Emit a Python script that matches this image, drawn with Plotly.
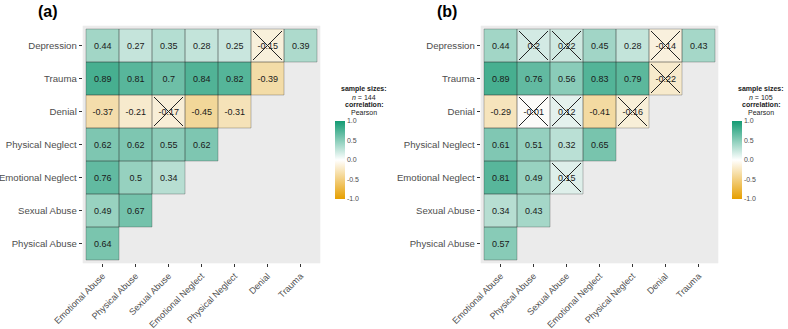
import plotly.graph_objects as go

W, H = 788, 329

# ---------------- data ----------------
row_labels = ["Depression", "Trauma", "Denial", "Physical Neglect",
              "Emotional Neglect", "Sexual Abuse", "Physical Abuse"]
col_labels = ["Emotional Abuse", "Physical Abuse", "Sexual Abuse",
              "Emotional Neglect", "Physical Neglect", "Denial", "Trauma"]

# panel (a), n = 144 ; rows top -> bottom, lower-triangular layout
corr_a = [
    [0.44, 0.27, 0.35, 0.28, 0.25, -0.15, 0.39],
    [0.89, 0.81, 0.7, 0.84, 0.82, -0.39],
    [-0.37, -0.21, -0.17, -0.45, -0.31],
    [0.62, 0.62, 0.55, 0.62],
    [0.76, 0.5, 0.34],
    [0.49, 0.67],
    [0.64],
]
nonsig_a = [
    [False, False, False, False, False, True, False],
    [False, False, False, False, False, False],
    [False, False, True, False, False],
    [False, False, False, False],
    [False, False, False],
    [False, False],
    [False],
]
n_a = 144

# panel (b), n = 105
corr_b = [
    [0.44, 0.2, 0.22, 0.45, 0.28, -0.14, 0.43],
    [0.89, 0.76, 0.56, 0.83, 0.79, -0.22],
    [-0.29, -0.01, 0.12, -0.41, -0.16],
    [0.61, 0.51, 0.32, 0.65],
    [0.81, 0.49, 0.15],
    [0.34, 0.43],
    [0.57],
]
nonsig_b = [
    [False, True, True, False, False, True, False],
    [False, False, False, False, False, True],
    [False, True, True, False, True],
    [False, False, False, False],
    [False, False, True],
    [False, False],
    [False],
]
n_b = 105

colorbar_ticks = [-1.0, -0.5, 0.0, 0.5, 1.0]

# ---------------- styling ----------------
FONT = "Liberation Sans, Arial, sans-serif"
colorscale = [[0.0, "#E69F00"], [0.5, "#FFFFFF"], [1.0, "#139B73"]]
nrow, ncol = len(row_labels), len(col_labels)


def px_x(p):
    return p / W


def px_y(p):
    return 1 - p / H


fig = go.Figure()

panels = [
    dict(corr=corr_a, ns=nonsig_a, n=n_a, xa="x", ya="y", title="(a)",
         title_x=48, leg_x=364, cb_x=335),
    dict(corr=corr_b, ns=nonsig_b, n=n_b, xa="x2", ya="y2", title="(b)",
         title_x=447, leg_x=761, cb_x=732),
]

shapes = []
annotations = []

for p in panels:
    z, txt = [], []
    xs_cross, ys_cross = [], []
    for i in range(nrow):
        yi = nrow - 1 - i
        zr, tr = [None] * ncol, [""] * ncol
        for j, v in enumerate(p["corr"][i]):
            zr[j] = v
            tr[j] = str(v)
            shapes.append(dict(type="rect", xref=p["xa"], yref=p["ya"],
                               x0=j - 0.5, x1=j + 0.5, y0=yi - 0.5, y1=yi + 0.5,
                               line=dict(color="rgba(40,40,40,0.28)", width=1),
                               layer="above"))
            if p["ns"][i][j]:
                xs_cross.append(j)
                ys_cross.append(yi)
        z.append(zr)
        txt.append(tr)
    fig.add_trace(go.Heatmap(
        z=z[::-1], text=txt[::-1], x=list(range(ncol)), y=list(range(nrow)),
        texttemplate="%{text}", textfont=dict(size=9, color="#1a1a1a", family=FONT),
        colorscale=colorscale, zmin=-1, zmax=1, opacity=0.86,
        xaxis=p["xa"], yaxis=p["ya"], hoverinfo="skip",
        colorbar=dict(x=px_x(p["cb_x"]), xanchor="left", y=px_y(160), yanchor="middle",
                      len=78, lenmode="pixels", thickness=10, outlinewidth=0,
                      xpad=0, ypad=0, tickvals=colorbar_ticks,
                      ticktext=[f"{t:.1f}" for t in colorbar_ticks], ticks="",
                      tickfont=dict(size=7, color="#4d4d4d", family=FONT)),
    ))
    fig.add_trace(go.Scatter(
        x=xs_cross, y=ys_cross, mode="markers", xaxis=p["xa"], yaxis=p["ya"],
        marker=dict(symbol="x-thin-open", size=29, color="#222222",
                    line=dict(width=1, color="#222222")),
        hoverinfo="skip", showlegend=False,
    ))
    annotations.append(dict(text="<b>" + p["title"] + "</b>", x=px_x(p["title_x"]),
                            y=px_y(11), xref="paper", yref="paper", showarrow=False,
                            xanchor="center", yanchor="middle",
                            font=dict(size=16, family=FONT, color="black")))
    leg_lines = [("<b>sample sizes:</b>", 89.5), (f"<i>n</i> = {p['n']}", 97.2),
                 ("<b>correlation:</b>", 104.9), ("Pearson", 112.6)]
    for t, yy in leg_lines:
        annotations.append(dict(text=t, x=px_x(p["leg_x"]), y=px_y(yy),
                                xref="paper", yref="paper", showarrow=False,
                                xanchor="center", yanchor="middle",
                                borderpad=0,
                                font=dict(size=7, family=FONT, color="#1a1a1a")))

axis_common = dict(showgrid=False, zeroline=False, ticks="outside", ticklen=3,
                   tickcolor="#333333", tickwidth=1, showline=False,
                   automargin=False, range=[-0.6, 6.6], fixedrange=True)
xfont = dict(size=9, family=FONT, color="#4d4d4d")
yfont = dict(size=9.6, family=FONT, color="#4d4d4d")

ydom = [px_y(263.3), px_y(25.7)]
fig.update_layout(
    template="none",
    width=W, height=H, margin=dict(l=0, r=0, t=0, b=0, autoexpand=False),
    paper_bgcolor="white", plot_bgcolor="#EBEBEB",
    font=dict(family=FONT),
    showlegend=False,
    xaxis=dict(domain=[px_x(82.7), px_x(82.7 + 237.6)], anchor="y",
               tickvals=list(range(ncol)), ticktext=col_labels, tickangle=-45,
               tickfont=xfont, **axis_common),
    yaxis=dict(domain=ydom, anchor="x", tickvals=list(range(nrow)),
               ticktext=row_labels[::-1], tickfont=yfont, **axis_common),
    xaxis2=dict(domain=[px_x(480.7), px_x(480.7 + 237.6)], anchor="y2",
                tickvals=list(range(ncol)), ticktext=col_labels, tickangle=-45,
                tickfont=xfont, **axis_common),
    yaxis2=dict(domain=ydom, anchor="x2", tickvals=list(range(nrow)),
                ticktext=row_labels[::-1], tickfont=yfont, **axis_common),
    shapes=shapes, annotations=annotations,
)

fig.write_html("out.html")
